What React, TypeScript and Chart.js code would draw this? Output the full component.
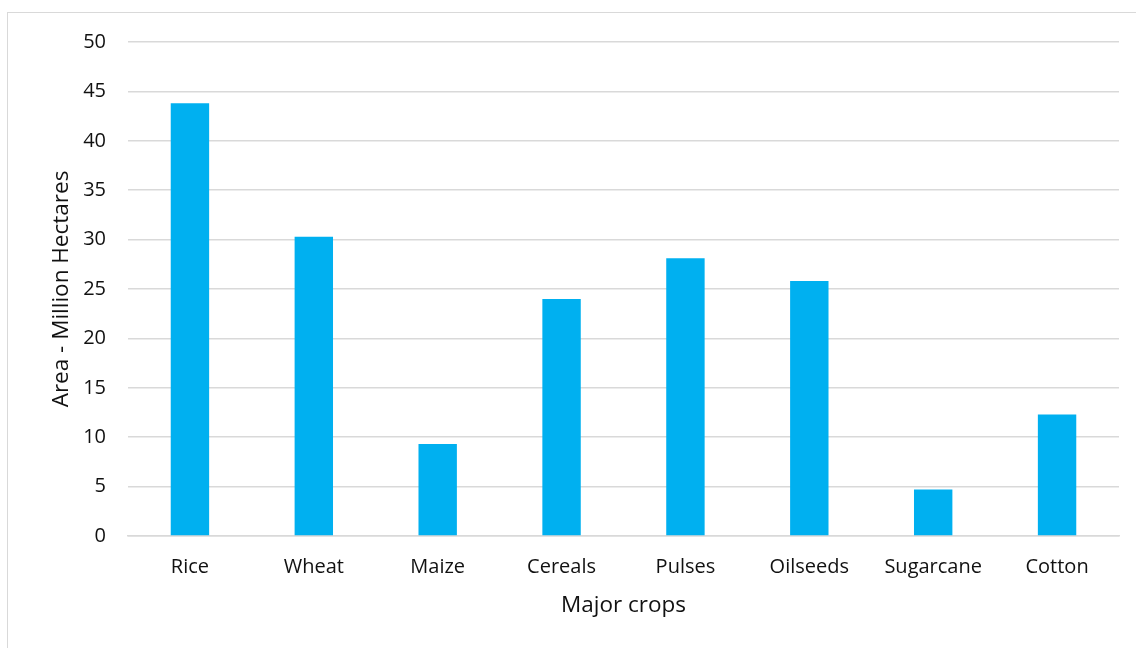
import React, { useEffect, useRef } from "react";
import { Chart, registerables } from "chart.js";

Chart.register(...registerables);

const categories = ["Rice", "Wheat", "Maize", "Cereals", "Pulses", "Oilseeds", "Sugarcane", "Cotton"];
const areaValues = [43.8, 30.3, 9.3, 24.0, 28.1, 25.8, 4.7, 12.3];
const yTitle = "Area - Million Hectares";
const xTitle = "Major crops";

const FONT = "'Open Sans', 'Noto Sans', sans-serif";
const TEXT = "#111";

export default function App() {
  const ref = useRef<HTMLCanvasElement | null>(null);

  useEffect(() => {
    if (!ref.current) return;
    const chart = new Chart(ref.current, {
      type: "bar",
      data: {
        labels: categories,
        datasets: [
          {
            data: areaValues,
            backgroundColor: "#00B0F0",
            borderWidth: 0,
            barPercentage: 1,
            categoryPercentage: 0.31,
          },
        ],
      },
      options: {
        animation: false,
        responsive: false,
        maintainAspectRatio: false,
        layout: { padding: { left: 48, right: 17, top: 42, bottom: 29 } },
        plugins: { legend: { display: false }, tooltip: { enabled: false } },
        scales: {
          x: {
            grid: { display: false, drawTicks: false },
            border: { display: true, color: "#d9d9d9", width: 1.5 },
            ticks: { color: TEXT, font: { family: FONT, size: 20 }, padding: 19, maxRotation: 0 },
            title: { display: true, text: xTitle, color: TEXT, font: { family: FONT, size: 22.5 }, padding: { top: 4, bottom: 0 } },
            afterFit: (scale: any) => {
              scale.height = 83;
            },
          },
          y: {
            min: 0,
            max: 50,
            grid: { color: "#d9d9d9", lineWidth: 1.5, drawTicks: false },
            border: { display: false },
            ticks: { stepSize: 5, color: TEXT, font: { family: FONT, size: 20 }, padding: 22 },
            title: { display: true, text: yTitle, color: TEXT, font: { family: FONT, size: 22.5 }, padding: { top: 0, bottom: 0 } },
            afterFit: (scale: any) => {
              scale.width = 80;
            },
          },
        },
      },
    });
    return () => chart.destroy();
  }, []);

  return (
    <div style={{ position: "fixed", left: 0, top: 0, width: 1136, height: 648, overflow: "hidden", background: "#fff" }}>
      <div
        style={{
          position: "absolute",
          left: 7,
          top: 12,
          width: 1200,
          height: 700,
          border: "1px solid #d9d9d9",
          boxSizing: "border-box",
        }}
      />
      <canvas ref={ref} width={1136} height={648} style={{ position: "absolute", left: 0, top: 0, width: 1136, height: 648 }} />
    </div>
  );
}
